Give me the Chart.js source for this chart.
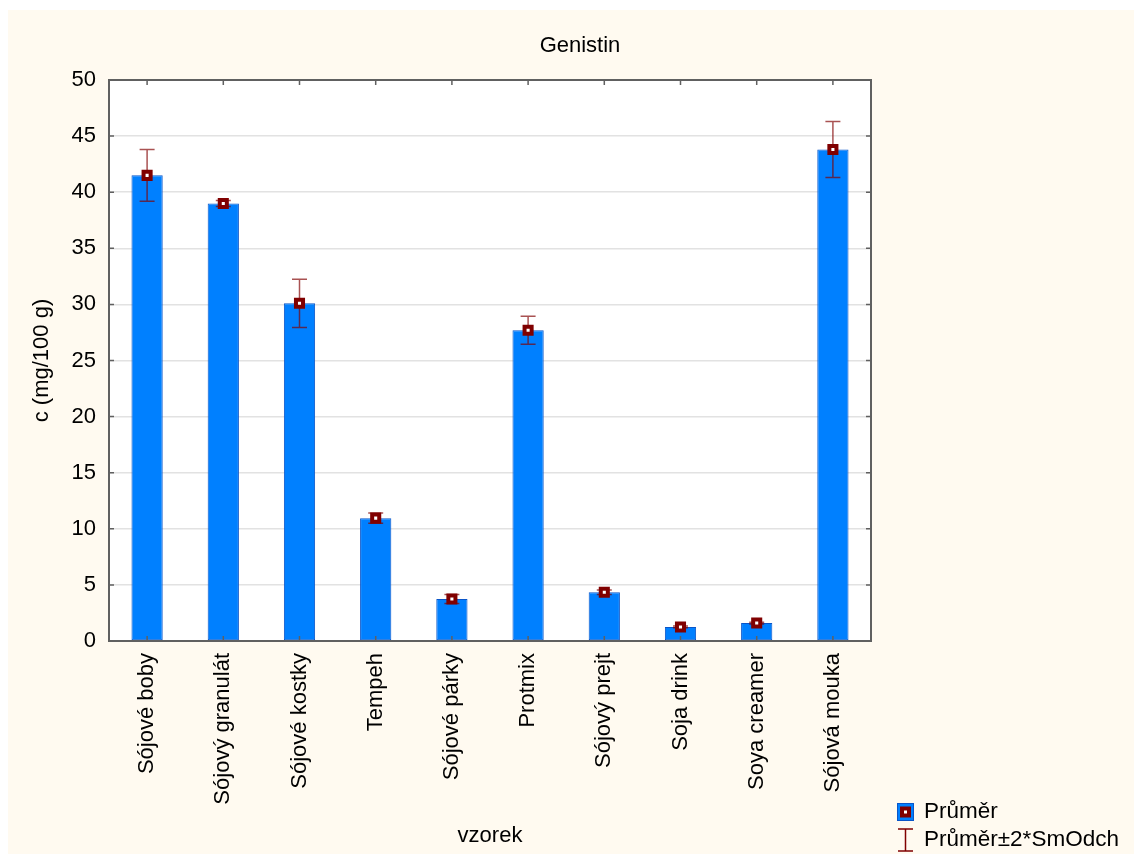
<!DOCTYPE html>
<html>
<head>
<meta charset="utf-8">
<title>Genistin</title>
<script src="https://cdn.jsdelivr.net/npm/chart.js@4/dist/chart.umd.min.js"></script>
<style>
  html, body { margin: 0; padding: 0; background: #ffffff; }
  #wrap { width: 1134px; height: 854px; }
</style>
</head>
<body>
<div id="wrap"><canvas id="c" width="1134" height="854"></canvas></div>
<script>
// Samples (vzorek)
const categories = [
  "Sójové boby", "Sójový granulát", "Sójové kostky", "Tempeh", "Sójové párky",
  "Protmix", "Sójový prejt", "Soja drink", "Soya creamer", "Sójová mouka"
];
// Mean genistin content, c (mg/100 g)
const means = [41.5, 39.0, 30.1, 10.95, 3.75, 27.7, 4.35, 1.25, 1.6, 43.8];
// Half-width of the interval Průměr ± 2*SmOdch
const errors = [2.3, 0.27, 2.15, 0.45, 0.4, 1.25, 0.2, 0.08, 0.08, 2.5];
// Y axis ticks
const yTicks = [0, 5, 10, 15, 20, 25, 30, 35, 40, 45, 50];

const FONT = '"Liberation Sans", Arial, sans-serif';
const CREAM = '#fffaf0';
const BAR_FILL = '#0080ff';
const BAR_EDGE = '#0a55c8';
const MARK = '#800000';
const ERR = 'rgba(128,0,0,0.68)';
const FRAME = '#606060';

// Page background, cream panel and white plot area
const backdrop = {
  id: 'backdrop',
  beforeDraw(chart) {
    const ctx = chart.ctx, a = chart.chartArea;
    ctx.save();
    ctx.fillStyle = '#ffffff';
    ctx.fillRect(0, 0, chart.width, chart.height);
    ctx.fillStyle = CREAM;
    ctx.fillRect(8, 10, chart.width - 8, chart.height - 10);
    ctx.fillStyle = '#ffffff';
    ctx.fillRect(a.left, a.top, a.right - a.left, a.bottom - a.top);
    ctx.restore();
  }
};

// Error bars drawn right after the bars, under the mean markers
const errorBars = {
  id: 'errorBars',
  afterDatasetDraw(chart, args) {
    if (args.index !== 0) return;
    const ctx = chart.ctx, x = chart.scales.x, y = chart.scales.y;
    ctx.save();
    ctx.strokeStyle = ERR;
    ctx.lineWidth = 1.5;
    means.forEach((m, i) => {
      const px = x.getPixelForValue(i);
      const top = y.getPixelForValue(m + errors[i]);
      const bot = y.getPixelForValue(m - errors[i]);
      ctx.beginPath();
      ctx.moveTo(px, top); ctx.lineTo(px, bot);
      ctx.moveTo(px - 7.5, top); ctx.lineTo(px + 7.5, top);
      ctx.moveTo(px - 7.5, bot); ctx.lineTo(px + 7.5, bot);
      ctx.stroke();
    });
    ctx.restore();
  }
};

// Frame with inward ticks, titles and legend
const frame = {
  id: 'frame',
  afterDraw(chart) {
    const ctx = chart.ctx, a = chart.chartArea, x = chart.scales.x, y = chart.scales.y;
    ctx.save();
    ctx.strokeStyle = FRAME;
    ctx.lineWidth = 2;
    ctx.strokeRect(a.left, a.top, a.right - a.left, a.bottom - a.top);
    ctx.lineWidth = 1.5;
    ctx.beginPath();
    yTicks.forEach(v => {
      const py = y.getPixelForValue(v);
      ctx.moveTo(a.left, py); ctx.lineTo(a.left + 5, py);
      ctx.moveTo(a.right, py); ctx.lineTo(a.right - 5, py);
    });
    categories.forEach((c, i) => {
      const px = x.getPixelForValue(i);
      ctx.moveTo(px, a.bottom); ctx.lineTo(px, a.bottom - 5);
      ctx.moveTo(px, a.top); ctx.lineTo(px, a.top + 5);
    });
    ctx.stroke();

    ctx.fillStyle = '#000000';
    ctx.font = '22px ' + FONT;
    ctx.textAlign = 'center';
    ctx.textBaseline = 'middle';
    ctx.fillText('Genistin', 580, 46);
    ctx.fillText('vzorek', (a.left + a.right) / 2, 836);
    ctx.save();
    ctx.translate(42, (a.top + a.bottom) / 2);
    ctx.rotate(-Math.PI / 2);
    ctx.fillText('c (mg/100 g)', 0, 0);
    ctx.restore();

    // legend
    ctx.fillStyle = BAR_FILL;
    ctx.fillRect(897, 803, 17, 18);
    ctx.strokeStyle = BAR_EDGE;
    ctx.lineWidth = 1;
    ctx.strokeRect(897.5, 803.5, 16, 17);
    ctx.fillStyle = '#ffffff';
    ctx.fillRect(902, 808.5, 7, 7);
    ctx.strokeStyle = MARK;
    ctx.lineWidth = 4;
    ctx.strokeRect(902, 808.5, 7, 7);
    ctx.strokeStyle = MARK;
    ctx.lineWidth = 1.5;
    ctx.beginPath();
    ctx.moveTo(905.5, 829); ctx.lineTo(905.5, 851);
    ctx.moveTo(898, 829); ctx.lineTo(913, 829);
    ctx.moveTo(898, 851); ctx.lineTo(913, 851);
    ctx.stroke();
    ctx.fillStyle = '#000000';
    ctx.textAlign = 'left';
    ctx.font = '22.5px ' + FONT;
    ctx.fillText('Průměr', 924, 812);
    ctx.fillText('Průměr±2*SmOdch', 924, 840);
    ctx.restore();
  }
};

new Chart(document.getElementById('c'), {
  data: {
    labels: categories,
    datasets: [
      {
        type: 'bar',
        label: 'Průměr',
        data: means,
        backgroundColor: BAR_FILL,
        borderColor: BAR_EDGE,
        borderWidth: 1,
        borderSkipped: false,
        categoryPercentage: 1,
        barPercentage: 0.41,
        order: 2
      },
      {
        type: 'line',
        label: 'Průměr marker',
        data: means,
        showLine: false,
        pointStyle: 'rect',
        pointRadius: 5,
        pointBorderWidth: 4,
        pointBorderColor: MARK,
        pointBackgroundColor: '#ffffff',
        borderColor: MARK,
        order: 1
      }
    ]
  },
  options: {
    responsive: false,
    animation: false,
    layout: { padding: { top: 80, right: 263, left: 0, bottom: 0 } },
    plugins: {
      legend: { display: false },
      title: { display: false },
      tooltip: { enabled: false }
    },
    scales: {
      x: {
        type: 'category',
        offset: true,
        grid: { display: false, drawTicks: false },
        border: { display: false },
        ticks: {
          autoSkip: false,
          maxRotation: 90,
          minRotation: 90,
          padding: 12,
          color: '#000000',
          font: { family: FONT, size: 22 }
        },
        afterFit(scale) { scale.height = 213; }
      },
      y: {
        min: 0,
        max: 50,
        afterBuildTicks(scale) { scale.ticks = yTicks.map(v => ({ value: v })); },
        grid: { color: '#e2e2e2', lineWidth: 1.5, drawTicks: false },
        border: { display: false },
        ticks: {
          padding: 13,
          color: '#000000',
          font: { family: FONT, size: 22 }
        },
        afterFit(scale) { scale.width = 109; }
      }
    }
  },
  plugins: [backdrop, errorBars, frame]
});
</script>
</body>
</html>
